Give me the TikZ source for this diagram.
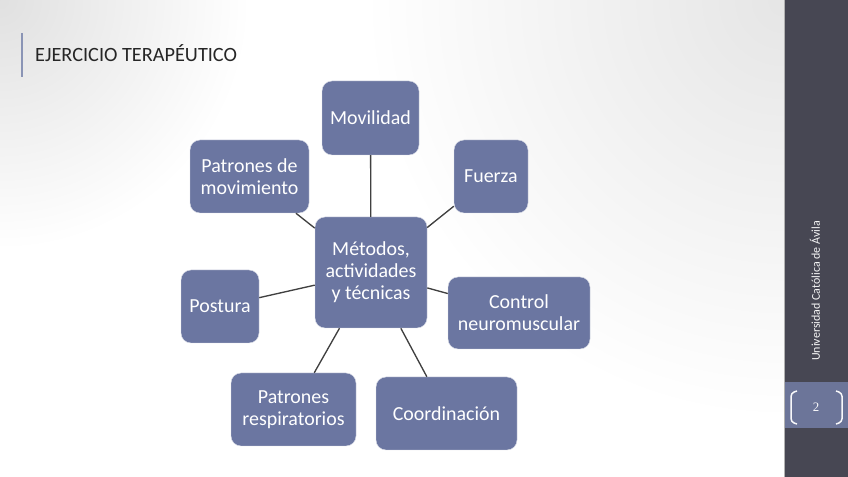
\documentclass[tikz,border=0pt]{standalone}
\usepackage{fontspec}
\setmainfont{Carlito}
\newfontfamily\serifa{Liberation Serif}
\definecolor{azulcaja}{HTML}{6B76A1}
\definecolor{barra}{HTML}{474753}
\definecolor{azulpagina}{HTML}{6C7599}
\definecolor{gris}{HTML}{404040}
\definecolor{marca}{HTML}{8A94B5}
\begin{document}
\begin{tikzpicture}[x=0.3mm,y=-0.3mm, inner sep=0pt,
  tema/.style={fill=azulcaja, draw=white!75!azulcaja, line width=0.4pt, rounded corners=3mm,
    text=white, align=center, font=\fontsize{17}{18.8}\selectfont},
  enlace/.style={draw=gris, line width=0.4mm}]

% fondo
\useasboundingbox (0,0) rectangle (848,477);
\fill[white] (0,0) rectangle (784,477);
\begin{scope}
\clip (0,0) rectangle (784,477);
\shade[inner color=black!12, outer color=white] (0,0) circle (250);
\shade[inner color=black!10, outer color=white] (784,0) circle (420);
\end{scope}
\fill[barra] (784,0) rectangle (848,477);
\fill[azulpagina] (784,382) rectangle (848,428);
\draw[gray!60, line width=0.3mm] (784,0) -- (784,477);

% titulo
\draw[marca, line width=0.6mm] (22,33) -- (22,77);
\node[anchor=base west, text=black!85, font=\fontsize{17.3}{20}\selectfont] (titulo) at (35,62) {EJERCICIO TERAPÉUTICO};

% lateral
\node[rotate=90, text=white!95!barra, font=\fontsize{10.2}{12}\selectfont] (univ) at (815,291) {Universidad Católica de Ávila};
\node[text=white!95!azulpagina, font=\serifa\fontsize{11}{12}\selectfont] (num) at (816,407) {2};
\draw[white!95!azulpagina, line width=0.45mm, rounded corners=1mm] (797,391) -- (791,393) -- (791,422) -- (797,424);
\draw[white!95!azulpagina, line width=0.45mm, rounded corners=1mm] (836,391) -- (842,393) -- (842,422) -- (836,424);

% esquema
\node[tema, minimum width=33.6mm, minimum height=33.3mm] (c) at (371,272.5) {Métodos,\\actividades\\y técnicas};
\node[tema, minimum width=29.1mm, minimum height=22.2mm] (mov) at (370.5,118) {Movilidad};
\node[tema, minimum width=22.2mm, minimum height=21.9mm] (fue) at (491,176.5) {Fuerza};
\node[tema, minimum width=35.7mm, minimum height=21.9mm] (pm) at (249.5,176.5) {Patrones de\\movimiento};
\node[tema, minimum width=23.4mm, minimum height=21.9mm] (pos) at (220,306.5) {Postura};
\node[tema, minimum width=42.6mm, minimum height=21.6mm] (con) at (519,313) {Control\\neuromuscular};
\node[tema, minimum width=37.5mm, minimum height=21.9mm] (pr) at (293.5,409.5) {Patrones\\respiratorios};
\node[tema, minimum width=42.3mm, minimum height=21.9mm] (coo) at (446.5,413.5) {Coordinación};

\draw[enlace] (c) -- (mov);
\draw[enlace] (c) -- (fue);
\draw[enlace] (c) -- (pm);
\draw[enlace] (c) -- (pos);
\draw[enlace] (c) -- (con);
\draw[enlace] (c) -- (pr);
\draw[enlace] (c) -- (coo);

\end{tikzpicture}
\end{document}
